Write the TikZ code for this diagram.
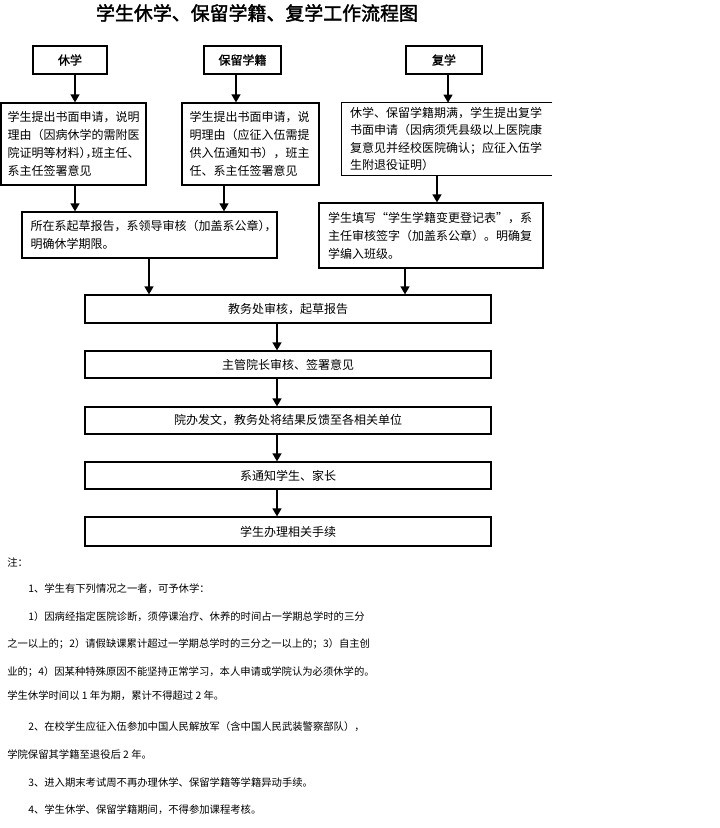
\documentclass[tikz,border=0pt]{standalone}
\usepackage{fontspec}
\setmainfont{Noto Sans CJK SC}
\newfontfamily\titlecjk{Noto Sans CJK SC}[FakeBold=2]
\newfontfamily\labelcjk{Noto Sans CJK SC}[FakeBold=1.5]
\newfontfamily\haltcjk{Noto Sans CJK SC}[RawFeature=+halt]
\newcommand\hw[1]{{\haltcjk #1}}
\usetikzlibrary{arrows.meta}
\tikzset{
  px/.style={x=0.75pt,y=-0.75pt},
  flowbox/.style={draw,line width=0.8pt,inner sep=0pt,align=left,
    font=\fontsize{9}{13.5}\selectfont},
  headbox/.style={draw,line width=0.8pt,inner sep=0pt,
    font=\labelcjk\fontsize{9}{11}\selectfont},
  plainbox/.style={inner sep=0pt,align=left,font=\fontsize{9}{13}\selectfont},
  arr/.style={line width=1.6pt,-{Triangle[width=6.5pt,length=6pt]}},
  note/.style={anchor=west,inner sep=0pt,font=\fontsize{7.75}{10}\selectfont},
}
\begin{document}
\begin{tikzpicture}[px]
\useasboundingbox (0,0) rectangle (720,828);
% title
\node[font=\titlecjk\fontsize{14.2}{16}\selectfont] (title) at (257,13) {学生休学、保留学籍、复学工作流程图};
% headers
\node[headbox,minimum width=74*0.75pt,minimum height=28*0.75pt] (xiu) at (70,60) {休学};
\node[headbox,minimum width=77*0.75pt,minimum height=28*0.75pt] (bl) at (242.5,60) {保留学籍};
\node[headbox,minimum width=76*0.75pt,minimum height=28*0.75pt] (fu) at (444,60) {复学};
% second row
\node[flowbox,minimum width=145*0.75pt,minimum height=82*0.75pt,text width=132*0.75pt] (a1) at (73.5,144)
 {学生提出书面申请，说明\\理由（因病休学的需附医\\院证明等材料\hw{），}班主任、\\系主任签署意见};
\node[flowbox,minimum width=137*0.75pt,minimum height=82*0.75pt,text width=122*0.75pt] (a2) at (250.5,144)
 {学生提出书面申请，说\\明理由（应征入伍需提\\供入伍通知书），班主\\任、系主任签署意见};
\node[plainbox,minimum width=210*0.75pt,minimum height=72*0.75pt,text width=194*0.75pt] (c) at (447,139)
 {休学、保留学籍期满，学生提出复学\\书面申请（因病须凭县级以上医院康\\复意见并经校医院确认；应征入伍学\\生附退役证明）};
\draw[line width=0.8pt] (c.north east) -- (c.north west) -- (c.south west) -- (c.south east);
% third row
\node[flowbox,minimum width=255*0.75pt,minimum height=46*0.75pt,text width=238*0.75pt] (b) at (149.5,235)
 {所在系起草报告，系领导审核（加盖系公章\hw{），}\\明确休学期限。};
\node[flowbox,minimum width=224*0.75pt,minimum height=65*0.75pt,text width=206*0.75pt] (d) at (431,235.5)
 {学生填写“学生学籍变更登记表”，系\\主任审核签字（加盖系公章）。明确复\\学编入班级。};
% central column
\node[flowbox,align=center,minimum width=406*0.75pt,minimum height=28*0.75pt] (e) at (288,309) {教务处审核，起草报告};
\node[flowbox,align=center,minimum width=406*0.75pt,minimum height=27*0.75pt] (f) at (288,364.5) {主管院长审核、签署意见};
\node[flowbox,align=center,minimum width=406*0.75pt,minimum height=27*0.75pt] (g) at (288,420.5) {院办发文，教务处将结果反馈至各相关单位};
\node[flowbox,align=center,minimum width=406*0.75pt,minimum height=27*0.75pt] (h) at (288,475.5) {系通知学生、家长};
\node[flowbox,align=center,minimum width=406*0.75pt,minimum height=29*0.75pt] (i) at (288,531.5) {学生办理相关手续};
% arrows
\draw[arr] (75,0 |- xiu.south) -- (75,0 |- a1.north);
\draw[arr] (236,0 |- bl.south) -- (236,0 |- a2.north);
\draw[arr] (448,0 |- fu.south) -- (448,0 |- c.north);
\draw[arr] (75,0 |- a1.south) -- (75,0 |- b.north);
\draw[arr] (224,0 |- a2.south) -- (224,0 |- b.north);
\draw[arr] (437,0 |- c.south) -- (437,0 |- d.north);
\draw[arr] (149,0 |- b.south) -- (149,0 |- e.north);
\draw[arr] (405,0 |- d.south) -- (405,0 |- e.north);
\draw[arr] (277,0 |- e.south) -- (277,0 |- f.north);
\draw[arr] (277,0 |- f.south) -- (277,0 |- g.north);
\draw[arr] (277,0 |- g.south) -- (277,0 |- h.north);
\draw[arr] (277,0 |- h.south) -- (277,0 |- i.north);
% notes
\node[note] (n0) at (7,562) {注：};
\node[note] (n1) at (28,589) {1、学生有下列情况之一者，可予休学：};
\node[note] (n2) at (28,617) {1）因病经指定医院诊断，须停课治疗、休养的时间占一学期总学时的三分};
\node[note] (n3) at (7,644) {之一以上的；2）请假缺课累计超过一学期总学时的三分之一以上的；3）自主创};
\node[note] (n4) at (7,672) {业的；4）因某种特殊原因不能坚持正常学习，本人申请或学院认为必须休学的。};
\node[note] (n5) at (7,696) {学生休学时间以 1 年为期，累计不得超过 2 年。};
\node[note] (n6) at (28,727) {2、在校学生应征入伍参加中国人民解放军（含中国人民武装警察部队），};
\node[note] (n7) at (7,755) {学院保留其学籍至退役后 2 年。};
\node[note] (n8) at (28,783) {3、进入期末考试周不再办理休学、保留学籍等学籍异动手续。};
\node[note] (n9) at (28,810) {4、学生休学、保留学籍期间，不得参加课程考核。};
\end{tikzpicture}
\end{document}
